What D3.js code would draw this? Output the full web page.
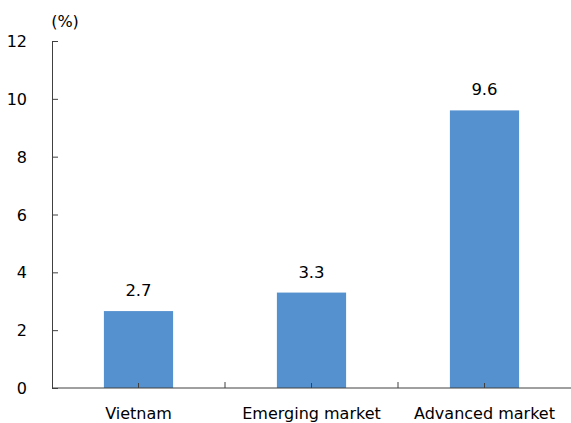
<!DOCTYPE html>
<html lang="en">
<head>
  <meta charset="UTF-8">
  <style>
    body { margin: 0; background: #fff; overflow: hidden; }
    svg { display: block; }
    text { font-family: "DejaVu Sans", Verdana, sans-serif; fill: #000; }
    .axis path, .axis line { stroke: #404040; stroke-width: 1; }
  </style>
  <script src="https://d3js.org/d3.v7.min.js"></script>
</head>
<body>
<svg id="chart"></svg>
<script>
  // data
  const categories = ["Vietnam", "Emerging market", "Advanced market"];
  const values = [2.66, 3.3, 9.6];
  const yTicks = [0, 2, 4, 6, 8, 10, 12];

  const width = 571, height = 423;
  const margin = { top: 41, right: 0, bottom: 35, left: 52 };

  const svg = d3.select("#chart")
    .attr("width", width)
    .attr("height", height);

  const x = d3.scaleBand()
    .domain(categories)
    .range([margin.left, width - margin.right])
    .paddingInner(0.6)
    .paddingOuter(0.3);

  // outer band (no padding) for tick positions between categories
  const xOuter = d3.scaleBand()
    .domain(categories)
    .range([margin.left, width - margin.right]);

  const y = d3.scaleLinear()
    .domain([0, 12])
    .range([height - margin.bottom, margin.top]);

  // bars
  svg.selectAll(".bar")
    .data(values)
    .enter().append("rect")
    .attr("class", "bar")
    .attr("x", (d, i) => x(categories[i]))
    .attr("y", d => y(d))
    .attr("width", x.bandwidth())
    .attr("height", d => y(0) - y(d))
    .attr("fill", "#5591cf");

  // value labels
  svg.selectAll(".label")
    .data(values)
    .enter().append("text")
    .attr("class", "label")
    .attr("x", (d, i) => x(categories[i]) + x.bandwidth() / 2)
    .attr("y", d => y(d) - 15)
    .attr("text-anchor", "middle")
    .style("font-size", "16.5px")
    .text(d => d3.format(".1f")(d));

  // y axis, ticks inward
  const yAxis = svg.append("g")
    .attr("class", "axis")
    .attr("transform", `translate(${margin.left},0)`)
    .call(d3.axisLeft(y).tickValues(yTicks).tickSizeInner(-6).tickSizeOuter(0).tickPadding(25));
  yAxis.selectAll("text").style("font-size", "16px").attr("dy", "0.35em");

  // x axis line
  const xg = svg.append("g").attr("class", "axis");
  xg.append("line")
    .attr("x1", margin.left).attr("x2", width - margin.right)
    .attr("y1", y(0)).attr("y2", y(0));

  // major ticks between categories
  xg.selectAll(".major")
    .data(categories.slice(1))
    .enter().append("line")
    .attr("x1", d => xOuter(d)).attr("x2", d => xOuter(d))
    .attr("y1", y(0)).attr("y2", y(0) - 6);

  // minor ticks at category centers
  xg.selectAll(".minor")
    .data(categories)
    .enter().append("line")
    .attr("x1", d => xOuter(d) + xOuter.bandwidth() / 2)
    .attr("x2", d => xOuter(d) + xOuter.bandwidth() / 2)
    .attr("y1", y(0)).attr("y2", y(0) - 5);

  // category labels
  xg.selectAll(".cat")
    .data(categories)
    .enter().append("text")
    .attr("x", d => xOuter(d) + xOuter.bandwidth() / 2)
    .attr("y", y(0) + 31)
    .attr("text-anchor", "middle")
    .style("font-size", "16px")
    .text(d => d);

  // unit label
  svg.append("text")
    .attr("x", 65)
    .attr("y", 27)
    .attr("text-anchor", "middle")
    .style("font-size", "16px")
    .text("(%)");
</script>
</body>
</html>
